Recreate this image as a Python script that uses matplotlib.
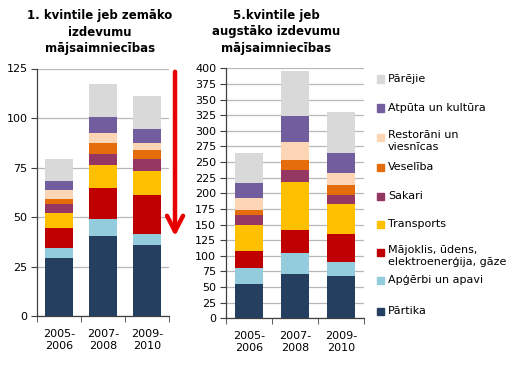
import numpy as np
import matplotlib
matplotlib.use('Agg')
import matplotlib.pyplot as plt

periods = ['2005-\n2006', '2007-\n2008', '2009-\n2010']
categories = ['Pārtika', 'Apģērbi un apavi', 'Mājoklis, ūdens,\nelektroenerģija, gāze',
              'Transports', 'Sakari', 'Veselība', 'Restorāni un\nviesnīcas',
              'Atpūta un kultūra', 'Pārējie']
colors = ['#243f60', '#93cddd', '#c00000', '#ffc000', '#953763',
          '#e46c0a', '#fcd5b5', '#725e9f', '#d9d9d9']

# 1st quintile (lowest spending households), per category, per period
q1 = [
    [29.6, 40.6, 36.0],
    [4.9, 8.6, 5.6],
    [10.1, 15.7, 19.7],
    [7.6, 11.2, 12.2],
    [4.6, 5.9, 6.0],
    [2.5, 5.6, 4.6],
    [4.6, 5.1, 3.5],
    [4.5, 7.6, 7.1],
    [11.1, 17.1, 16.2],
]
# 5th quintile (highest spending households)
q5 = [
    [55.0, 71.0, 67.7],
    [25.0, 33.6, 22.4],
    [27.7, 36.8, 44.8],
    [41.6, 76.8, 48.0],
    [16.0, 19.2, 14.4],
    [8.0, 16.0, 16.0],
    [19.2, 28.8, 19.2],
    [24.0, 41.6, 32.0],
    [48.0, 72.0, 65.6],
]

W, H = 515, 365
fig = plt.figure(figsize=(W / 100, H / 100), dpi=100)

def fx(px):
    return px / W

def fy(py):
    return 1 - py / H

def stacked(ax, data, ymax, step, width):
    x = np.arange(len(periods))
    bottom = np.zeros(len(periods))
    for vals, c in zip(data, colors):
        ax.bar(x, vals, width, bottom=bottom, color=c, zorder=3)
        bottom += np.array(vals)
    ax.set_xlim(-0.5, 2.5)
    ax.set_ylim(0, ymax)
    ax.set_yticks(np.arange(0, ymax + 1, step))
    ax.yaxis.grid(True, color='#b8b8b8', lw=0.9, zorder=0)
    ax.set_xticks(x)
    ax.set_xticklabels(periods, fontsize=8, linespacing=1.3)
    ax.set_xticks([-0.5, 0.5, 1.5, 2.5], minor=True)
    ax.tick_params(axis='x', which='major', length=0, pad=9)
    ax.tick_params(axis='x', which='minor', length=4, direction='out', color='#404040')
    ax.tick_params(axis='y', labelsize=8, length=4, color='#404040', pad=3)
    for s in ['top', 'right']:
        ax.spines[s].set_visible(False)
    for s in ['left', 'bottom']:
        ax.spines[s].set_color('#404040')
        ax.spines[s].set_linewidth(0.9)

ax1 = fig.add_axes([fx(37.3), fy(316.3), fx(169.3 - 37.3), fy(68.5) - fy(316.3)])
stacked(ax1, q1, 125, 25, 0.636)

ax2 = fig.add_axes([fx(226), fy(318.3), fx(364 - 226), fy(68.3) - fy(318.3)])
stacked(ax2, q5, 400, 25, 0.63)

fig.text(fx(100), fy(32), '1. kvintile jeb zemāko\nizdevumu\nmājsaimniecības',
         ha='center', va='center', fontsize=8.5, fontweight='bold', linespacing=1.35)
fig.text(fx(276), fy(32), '5.kvintile jeb\naugstāko izdevumu\nmājsaimniecības',
         ha='center', va='center', fontsize=8.5, fontweight='bold', linespacing=1.35)

# red downward arrow
fig.add_artist(matplotlib.patches.FancyArrowPatch(
    (fx(175), fy(69)), (fx(175), fy(239)), transform=fig.transFigure,
    arrowstyle='->,head_length=7,head_width=3.6', color='#e80000', lw=3.2,
    mutation_scale=1.6))

# legend, top to bottom
legend_y = [79, 108, 137, 167, 196, 224, 252, 280, 311]
for name, c, y in zip(categories[::-1], colors[::-1], legend_y):
    fig.patches.append(matplotlib.patches.Rectangle(
        (fx(377), fy(y + 3.5)), fx(7), fy(y - 3.5) - fy(y + 3.5),
        transform=fig.transFigure, color=c))
    fig.text(fx(388), fy(y), name, ha='left', va='top' if '\n' in name else 'center',
             fontsize=8, linespacing=1.25,
             transform=fig.transFigure if '\n' not in name else
             matplotlib.transforms.offset_copy(fig.transFigure, fig=fig, y=7, units='dots'))

fig.savefig('out.png', dpi=100)
